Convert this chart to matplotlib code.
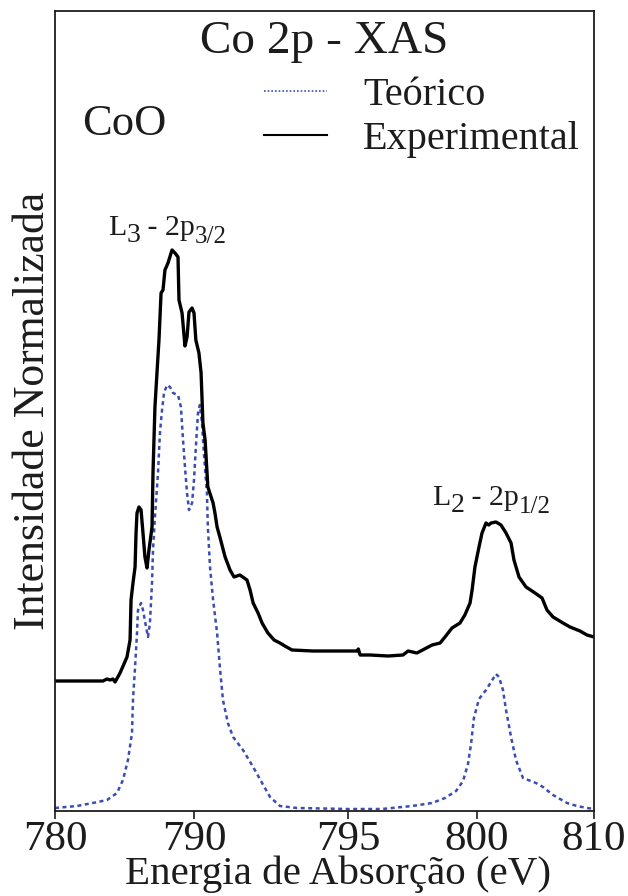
import matplotlib
matplotlib.use('Agg')
import matplotlib.pyplot as plt
import numpy as np
from matplotlib.lines import Line2D
from matplotlib.transforms import offset_copy

# Co L-edge XAS of CoO: experiment vs. calculated spectrum
exp_energy = [780.00, 783.45, 783.74, 783.96, 784.17, 784.32, 784.68, 785.18, 785.40, 785.47,
              785.61, 785.76, 785.83, 785.90, 786.04, 786.19, 786.33, 786.47, 786.62, 786.76,
              786.98, 787.05, 787.19, 787.34, 787.48, 787.63, 787.77, 787.91, 788.13, 788.42,
              788.63, 788.85, 788.92, 789.14, 789.35, 789.50, 789.64, 789.86, 790.00, 790.06,
              790.16, 790.23, 790.29, 790.36, 790.45, 790.62, 790.68, 790.75, 790.84, 791.01,
              791.17, 791.30, 791.49, 791.72, 791.82, 791.92, 792.08, 792.21, 792.40, 792.60,
              792.79, 792.95, 793.18, 793.86, 795.35, 795.40, 795.47, 795.85, 796.55, 797.13,
              797.33, 797.67, 798.26, 798.57, 798.76, 799.03, 799.34, 799.53, 799.73, 799.81,
              799.92, 800.17, 800.43, 800.77, 801.00, 801.20, 801.62, 802.05, 802.48, 802.91,
              803.16, 803.59, 804.19, 804.96, 805.56, 805.98, 806.50, 807.35, 807.95, 808.80,
              809.40, 810.00]
exp_intensity = [1.30, 1.30, 1.32, 1.31, 1.32, 1.29, 1.38, 1.54, 1.71, 2.11,
                 2.28, 2.44, 2.78, 2.98, 3.04, 3.01, 2.78, 2.54, 2.43, 2.61,
                 2.84, 3.38, 4.04, 4.39, 4.71, 5.18, 5.21, 5.41, 5.48, 5.61,
                 5.58, 5.54, 5.11, 4.98, 4.65, 4.74, 4.99, 5.03, 4.98, 4.71,
                 4.58, 4.38, 3.88, 3.71, 3.24, 3.08, 2.98, 2.84, 2.74, 2.54,
                 2.41, 2.34, 2.36, 2.31, 2.21, 2.08, 1.98, 1.88, 1.78, 1.71,
                 1.68, 1.65, 1.61, 1.60, 1.60, 1.62, 1.56, 1.56, 1.55, 1.56,
                 1.60, 1.58, 1.66, 1.68, 1.74, 1.83, 1.88, 1.96, 2.08, 2.21,
                 2.44, 2.64, 2.78, 2.88, 2.86, 2.88, 2.89, 2.86, 2.78, 2.68,
                 2.51, 2.34, 2.24, 2.18, 2.13, 2.01, 1.94, 1.88, 1.84, 1.80,
                 1.76, 1.74]

theo_energy = [780.00, 781.58, 782.73, 783.74, 784.46, 784.89, 785.25, 785.54, 785.61, 785.76,
               785.90, 785.97, 786.19, 786.33, 786.55, 786.69, 786.83, 786.98, 787.05, 787.19,
               787.41, 787.55, 787.70, 787.84, 788.06, 788.27, 788.49, 788.85, 789.06, 789.21,
               789.35, 789.50, 789.64, 789.86, 790.00, 790.06, 790.13, 790.19, 790.26, 790.32,
               790.42, 790.45, 790.52, 790.62, 790.75, 790.84, 790.94, 791.10, 791.27, 791.59,
               791.92, 792.21, 792.47, 792.79, 793.34, 795.00, 796.32, 797.48, 798.26, 798.76,
               799.19, 799.46, 799.65, 799.77, 799.88, 800.17, 800.77, 801.20, 801.62, 801.88,
               802.22, 802.48, 802.91, 803.33, 803.93, 805.04, 805.64, 806.50, 807.69, 808.55,
               809.40, 810.00]
theo_intensity = [0.03, 0.05, 0.08, 0.11, 0.18, 0.31, 0.51, 0.78, 1.11, 1.44,
                  1.78, 2.01, 2.08, 2.01, 1.84, 1.74, 1.88, 2.28, 2.61, 2.94,
                  3.38, 3.78, 4.01, 4.18, 4.26, 4.24, 4.18, 4.16, 4.04, 3.71,
                  3.44, 3.18, 3.01, 3.08, 3.31, 3.64, 3.98, 4.06, 3.88, 3.58,
                  3.18, 2.84, 2.44, 2.11, 1.78, 1.44, 1.11, 0.88, 0.74, 0.61,
                  0.44, 0.28, 0.14, 0.05, 0.03, 0.02, 0.02, 0.05, 0.08, 0.13,
                  0.20, 0.30, 0.47, 0.67, 0.93, 1.12, 1.21, 1.29, 1.37, 1.34,
                  1.21, 1.01, 0.74, 0.51, 0.33, 0.28, 0.24, 0.16, 0.08, 0.05,
                  0.03, 0.02]

tick_energy = [780, 790, 795, 800, 810]
# uneven spacing of the energy axis (relative display positions of the ticks)
tick_position = [0, 139, 293, 422, 539]

plt.rcParams['font.family'] = ['Liberation Serif', 'DejaVu Serif']

ink = '#1c1c1c'


def forward(x):
    return np.interp(x, tick_energy, tick_position)


def inverse(p):
    return np.interp(p, tick_position, tick_energy)


def edge_label(ax, x, y, runs):
    """Write text runs one after another; each run is (text, size, drop in points)."""
    renderer = ax.figure.canvas.get_renderer()
    dx = 0.0
    for text, size, drop in runs:
        tr = offset_copy(ax.transAxes, fig=ax.figure, x=dx, y=-drop, units='points')
        t = ax.text(x, y, text, transform=tr, ha='left', va='baseline',
                    fontsize=size, color=ink)
        dx += t.get_window_extent(renderer).width * 72 / ax.figure.dpi


fig = plt.figure(figsize=(6.28, 8.96), dpi=100)
ax = fig.add_axes([55 / 628, 85 / 896, 539 / 628, 800 / 896])
ax.set_xscale('function', functions=(forward, inverse))

blue = '#3a4db3'
ax.plot(theo_energy, theo_intensity, color=blue, lw=1.8, ls=(0, (1.6, 1.4)))
ax.plot(exp_energy, exp_intensity, color='black', lw=2.4, solid_joinstyle='round')

ax.set_xlim(780, 810)
ax.set_ylim(0, 8)
ax.set_xticks(tick_energy)
ax.set_xticklabels([str(t) for t in tick_energy])
ax.xaxis.set_minor_locator(matplotlib.ticker.NullLocator())
ax.set_yticks([])
ax.tick_params(axis='x', labelsize=31, length=6, width=1.2, pad=1, colors=ink)
for s in ax.spines.values():
    s.set_linewidth(1.3)
    s.set_color(ink)

ax.set_xlabel('Energia de Absorção (eV)', fontsize=29.5, color=ink)
ax.xaxis.set_label_coords(0.525, -0.056)
ax.set_ylabel('Intensidade Normalizada', fontsize=31.5, color=ink)
ax.yaxis.set_label_coords(-0.004, 0.5)

ax.text(0.5, 0.9475, 'Co 2p - XAS', transform=ax.transAxes, ha='center',
        va='baseline', fontsize=34, color=ink)
ax.text(0.05, 0.845, 'CoO', transform=ax.transAxes, ha='left', va='baseline',
        fontsize=32, color=ink)

edge_label(ax, 0.098, 0.72, [('L', 21.5, 0), ('3', 20, 5), (' - 2p', 21.5, 0), ('3/2', 18, 5.5)])
edge_label(ax, 0.70, 0.3825, [('L', 21.5, 0), ('2', 20, 5), (' - 2p', 21.5, 0), ('1/2', 18, 5.5)])

handles = [Line2D([], [], color=blue, lw=1.2, ls=(0, (1, 1.2))),
           Line2D([], [], color='black', lw=1.5)]
ax.legend(handles, ['Teórico', 'Experimental'], loc='upper left',
          bbox_to_anchor=(0.388, 0.918), frameon=False, fontsize=29,
          handlelength=1.55, handletextpad=0.9, labelspacing=0.17,
          borderpad=0, borderaxespad=0, labelcolor=ink)

fig.savefig('out.png', dpi=100)
